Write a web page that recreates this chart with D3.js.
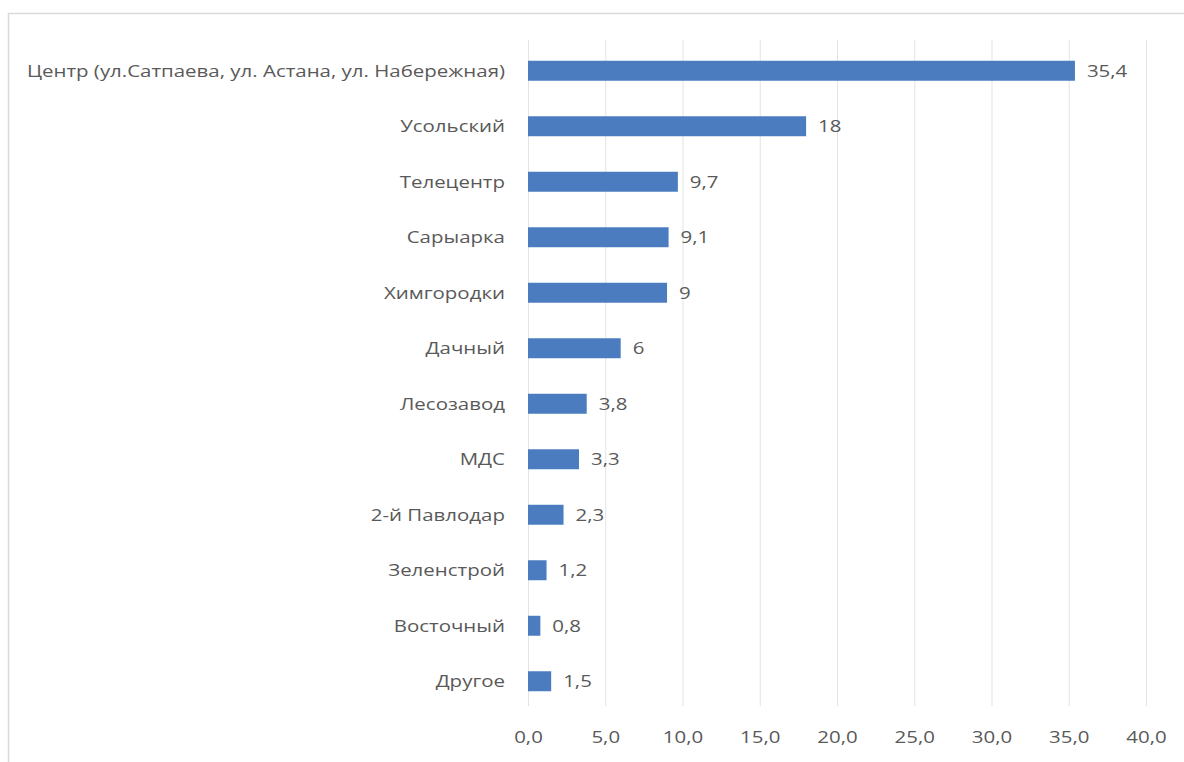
<!DOCTYPE html>
<html><head><meta charset="utf-8">
<script src="https://cdn.jsdelivr.net/npm/d3@7"></script>
<style>
html,body{margin:0;padding:0;background:#fff;}
text{font-family:"Open Sans",sans-serif;fill:#595959;}
</style></head>
<body><svg id="c" width="1184" height="762"></svg>
<script>
const categories = ["Центр (ул.Сатпаева, ул. Астана, ул. Набережная)","Усольский","Телецентр","Сарыарка","Химгородки","Дачный","Лесозавод","МДС","2-й Павлодар","Зеленстрой","Восточный","Другое"];
const values = [35.4, 18, 9.7, 9.1, 9, 6, 3.8, 3.3, 2.3, 1.2, 0.8, 1.5];
const valueLabels = ["35,4","18","9,7","9,1","9","6","3,8","3,3","2,3","1,2","0,8","1,5"];
const ticks = [0,5,10,15,20,25,30,35,40];
const tickLabels = ["0,0","5,0","10,0","15,0","20,0","25,0","30,0","35,0","40,0"];

const FS = 16.5, SX = 1.24;
const svg = d3.select("#c");
svg.append("path").attr("d","M8.5,762 V13.5 H1184").attr("fill","none").attr("stroke","#d9d9d9").attr("stroke-width",1.5);

const x = d3.scaleLinear().domain([0,40]).range([528,1146]);
const y = d3.scaleBand().domain(categories).range([43,709]).paddingInner(0.64).paddingOuter(0.32);

svg.append("g").selectAll("line").data(ticks).join("line")
  .attr("x1",d=>x(d)+0.5).attr("x2",d=>x(d)+0.5).attr("y1",40).attr("y2",706)
  .attr("stroke","#e3e3e3").attr("stroke-width",1);

const ax = svg.append("g").attr("transform","translate(0,743)")
  .call(d3.axisBottom(x).tickValues(ticks).tickFormat((d,i)=>tickLabels[i]).tickSize(0).tickPadding(0));
ax.select(".domain").remove();
ax.selectAll("text").attr("font-size",FS).attr("y",0).attr("dy",0)
  .attr("transform",`scale(${SX},1)`)
  .style("font-family",'"Open Sans",sans-serif').attr("fill","#595959");

svg.append("g").selectAll("rect").data(values).join("rect")
  .attr("x",x(0)).attr("y",(d,i)=>y(categories[i]))
  .attr("width",d=>x(d)-x(0)).attr("height",y.bandwidth())
  .attr("fill","#4a7cbf");

svg.append("g").selectAll("text").data(values).join("text")
  .attr("transform",(d,i)=>`translate(${x(d)+12},${y(categories[i])+y.bandwidth()/2}) scale(${SX},1)`)
  .attr("dy","0.35em").attr("font-size",FS).text((d,i)=>valueLabels[i]);

svg.append("g").selectAll("text").data(categories).join("text")
  .attr("transform",d=>`translate(505,${y(d)+y.bandwidth()/2}) scale(${SX},1)`)
  .attr("dy","0.35em").attr("text-anchor","end").attr("font-size",FS).text(d=>d);
</script></body></html>
